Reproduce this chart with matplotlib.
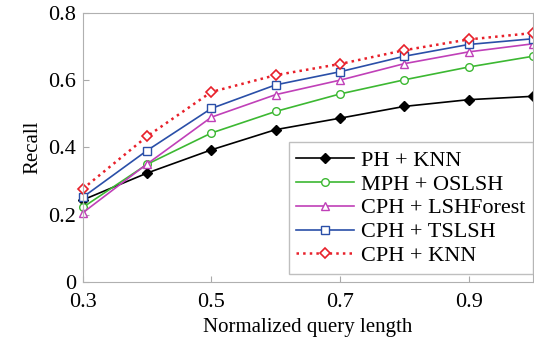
import matplotlib
matplotlib.use("Agg")
import matplotlib.pyplot as plt

plt.rcParams['font.family'] = ['Liberation Serif', 'DejaVu Serif']

x = [0.3, 0.4, 0.5, 0.6, 0.7, 0.8, 0.9, 1.0]
ph_knn = [0.244, 0.324, 0.393, 0.453, 0.487, 0.522, 0.542, 0.552]
mph_oslsh = [0.222, 0.350, 0.443, 0.507, 0.559, 0.601, 0.639, 0.671]
cph_lshforest = [0.206, 0.351, 0.490, 0.557, 0.600, 0.649, 0.684, 0.708]
cph_tslsh = [0.252, 0.391, 0.516, 0.586, 0.625, 0.671, 0.706, 0.723]
cph_knn = [0.277, 0.433, 0.565, 0.615, 0.648, 0.689, 0.721, 0.740]

fig = plt.figure(figsize=(5.34, 3.47), dpi=100)
ax = fig.add_axes([0.155, 0.187, 0.843, 0.776])

ax.plot(x, ph_knn, '-', color='black', marker='D', ms=5, mfc='black', lw=1.2, label='PH + KNN', clip_on=False)
ax.plot(x, mph_oslsh, '-', color='#3cb832', marker='o', ms=5.5, mfc='white', mew=1, lw=1.2, label='MPH + OSLSH', clip_on=False)
ax.plot(x, cph_lshforest, '-', color='#c040b8', marker='^', ms=6, mfc='white', mew=1, lw=1.2, label='CPH + LSHForest', clip_on=False)
ax.plot(x, cph_tslsh, '-', color='#2a4fa8', marker='s', ms=5.5, mfc='white', mew=1, lw=1.2, label='CPH + TSLSH', clip_on=False)
ax.plot(x, cph_knn, ':', color='#e8202a', marker='D', ms=5, mfc='white', mew=1.2, lw=1.8, label='CPH + KNN', clip_on=False)

ax.set_xlim(0.3, 1.0)
ax.set_ylim(0, 0.8)
ax.set_xticks([0.3, 0.5, 0.7, 0.9])
ax.set_xticklabels(['0.3', '0.5', '0.7', '0.9'])
ax.set_yticks([0, 0.2, 0.4, 0.6, 0.8])
ax.set_yticklabels(['0', '0.2', '0.4', '0.6', '0.8'])
ax.tick_params(direction='in', length=4, color='#aaaaaa', labelsize=16)
ax.tick_params(axis='x', pad=8)
ax.tick_params(axis='y', pad=5)
for s in ax.spines.values():
    s.set_color('#b0b0b0')

ax.set_xlabel('Normalized query length', fontsize=15, labelpad=4)
ax.set_ylabel('Recall', fontsize=15, labelpad=4)

leg = ax.legend(loc='lower right', bbox_to_anchor=(1.0, 0.03), fontsize=16,
                frameon=True, fancybox=False, edgecolor='#b0b0b0',
                handlelength=2.6, handletextpad=0.3, labelspacing=0.15,
                borderpad=0.35, borderaxespad=0.0)
leg.get_frame().set_linewidth(1.0)

fig.savefig('out.png', dpi=100)
